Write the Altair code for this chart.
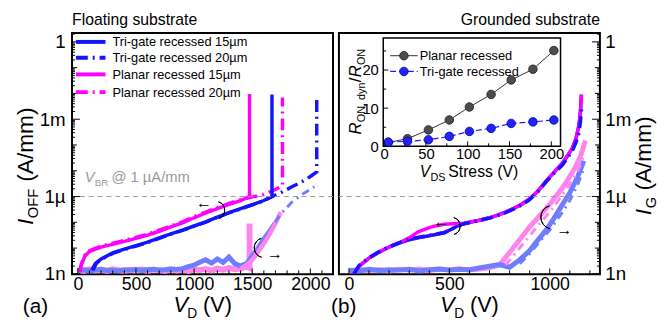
import altair as alt
import pandas as pd

FONT = "Liberation Sans"
W, H = 265, 245
BLUE, MAGENTA = "#1414ff", "#ff00ff"
LBLUE, LPINK = "#6f7dff", "#ff85ee"
GREY_TXT = "#9a9a9a"
DASH20 = [12, 5, 2, 5]

# ---------------- axis labels ----------------
Y_LABEL_VALUES = [1e-9, 1e-6, 1e-3, 1.0]
Y_LABELS = ["1n", "1µ", "1m", "1"]
XA_LABELS = [0, 500, 1000, 1500, 2000]
XB_LABELS = [0, 500, 1000]
INSET_X_LABELS = [0, 50, 100, 150, 200]
INSET_Y_LABELS = [0, 10, 20]

# ---------------- (a) floating substrate : I_OFF ----------------
A_TRI15_V = [120, 150, 200, 300, 400, 500, 600, 700, 800, 900, 1000, 1100, 1200, 1300, 1400, 1500, 1600, 1670, 1670]
A_TRI15_I = [1.4e-9, 2.5e-9, 3.8e-9, 6.5e-9, 9.2e-9, 12.5e-9, 17e-9, 25e-9, 36e-9, 50e-9, 72e-9, 105e-9,
             160e-9, 240e-9, 340e-9, 480e-9, 700e-9, 1.0e-6, 9e-3]
A_TRI20_V = [130, 160, 200, 300, 400, 500, 600, 700, 800, 900, 1000, 1100, 1200, 1300, 1400, 1500, 1600,
             1700, 1750, 1800, 1850, 1900, 1950, 2000, 2055, 2055]
A_TRI20_I = [1.4e-9, 2.6e-9, 3.6e-9, 6.2e-9, 8.8e-9, 12e-9, 16.5e-9, 24e-9, 35e-9, 49e-9, 70e-9, 102e-9,
             155e-9, 235e-9, 330e-9, 470e-9, 690e-9, 1.15e-6, 1.45e-6, 1.9e-6, 2.5e-6, 3.2e-6, 4.3e-6,
             6e-6, 9e-6, 8e-3]
A_PLA15_V = [15, 30, 60, 100, 200, 350, 500, 600, 700, 800, 900, 1000, 1100, 1200, 1300, 1400, 1477, 1477]
A_PLA15_I = [1.2e-9, 2.2e-9, 4.8e-9, 7.4e-9, 11e-9, 16e-9, 24e-9, 32e-9, 45e-9, 66e-9, 95e-9, 150e-9,
             230e-9, 340e-9, 500e-9, 700e-9, 1.0e-6, 9.5e-3]
A_PLA20_V = [15, 30, 60, 100, 200, 350, 500, 600, 700, 800, 900, 1000, 1100, 1200, 1300, 1400, 1500,
             1550, 1600, 1650, 1700, 1760, 1760]
A_PLA20_I = [1.2e-9, 2.4e-9, 5.2e-9, 8e-9, 12e-9, 17.5e-9, 26e-9, 35e-9, 50e-9, 72e-9, 105e-9, 165e-9,
             250e-9, 370e-9, 540e-9, 750e-9, 0.97e-6, 1.05e-6, 1.2e-6, 1.5e-6, 1.9e-6, 2.6e-6, 7e-3]

# ---------------- (a) floating substrate : I_G ----------------
A_GPLA15_V = [0, 50, 100, 150, 200, 250, 300, 350, 400, 450, 500, 550, 600, 650, 700, 750, 800, 850,
              900, 950, 1000, 1050, 1100, 1150, 1200, 1250, 1300, 1350, 1400, 1450, 1477, 1477]
A_GPLA15_I = [1.45e-9, 1.3e-9, 1.5e-9, 1.35e-9, 1.45e-9, 1.3e-9, 1.5e-9, 1.4e-9, 1.3e-9, 1.45e-9,
              1.35e-9, 1.5e-9, 1.3e-9, 1.45e-9, 1.4e-9, 1.3e-9, 1.5e-9, 1.35e-9, 1.45e-9, 1.3e-9,
              1.5e-9, 1.4e-9, 1.55e-9, 1.35e-9, 1.6e-9, 1.45e-9, 1.7e-9, 1.5e-9, 1.6e-9, 1.9e-9,
              1.7e-9, 9e-8]
A_GPLA20_V = [1400, 1450, 1500, 1550, 1600, 1650, 1700, 1745]
A_GPLA20_I = [1.6e-9, 2.2e-9, 3.5e-9, 7e-9, 15e-9, 35e-9, 90e-9, 250e-9]
A_GTRI15_V = [0, 50, 100, 150, 200, 250, 300, 350, 400, 450, 500, 550, 600, 650, 700, 750, 800, 850,
              900, 950, 1000, 1050, 1100, 1150, 1200, 1250, 1300, 1350, 1400,
              1450, 1500, 1550, 1600, 1650, 1695]
A_GTRI15_I = [1.35e-9, 1.45e-9, 1.3e-9, 1.4e-9, 1.5e-9, 1.35e-9, 1.4e-9, 1.3e-9, 1.45e-9, 1.4e-9,
              1.5e-9, 1.35e-9, 1.45e-9, 1.5e-9, 1.4e-9, 1.45e-9, 1.55e-9, 1.5e-9, 1.6e-9, 1.9e-9,
              2.2e-9, 2.8e-9, 3.5e-9, 2.6e-9, 3.8e-9, 2.8e-9, 4.5e-9, 2.5e-9, 2.0e-9,
              2.5e-9, 5e-9, 10e-9, 22e-9, 45e-9, 92e-9]
A_GTRI20_V = [1695, 1760, 1840, 1940, 2035]
A_GTRI20_I = [100e-9, 0.25e-6, 0.6e-6, 1.3e-6, 2.4e-6]

# ---------------- (b) grounded substrate : I_OFF ----------------
B_V = [25, 50, 100, 150, 200, 263, 300, 345, 400, 426, 475, 541, 574, 613, 650, 700, 737, 780, 819, 860,
       900, 940, 982, 1020, 1064, 1090, 1113, 1130, 1146, 1153, 1158]
B_PLA15_I = [1.0e-9, 2.0e-9, 4.1e-9, 7e-9, 11e-9, 18e-9, 25e-9, 43e-9, 62e-9, 71e-9, 84e-9, 90e-9, 92e-9,
             105e-9, 120e-9, 150e-9, 186e-9, 250e-9, 340e-9, 500e-9, 810e-9, 1.6e-6, 4e-6, 8.5e-6, 20e-6,
             40e-6, 76e-6, 170e-6, 0.6e-3, 2e-3, 9e-3]
B_PLA20_I = [1.0e-9, 2.1e-9, 4.3e-9, 7.3e-9, 11.5e-9, 17.5e-9, 22e-9, 26e-9, 31e-9, 34e-9, 40e-9, 72e-9,
             90e-9, 104e-9, 118e-9, 148e-9, 183e-9, 245e-9, 335e-9, 490e-9, 790e-9, 1.55e-6, 3.9e-6,
             8.2e-6, 19e-6, 38e-6, 72e-6, 160e-6, 0.5e-3, 1.5e-3, 6e-3]
B_TRI15_I = [1.0e-9, 2.0e-9, 4.1e-9, 7e-9, 11e-9, 17e-9, 21e-9, 25e-9, 30e-9, 33e-9, 39e-9, 72e-9, 90e-9,
             105e-9, 120e-9, 150e-9, 186e-9, 250e-9, 340e-9, 500e-9, 810e-9, 1.6e-6, 4e-6, 8.5e-6, 20e-6,
             40e-6, 76e-6, 170e-6, 0.6e-3, 2e-3, 9e-3]
B_TRI20_I = [1.0e-9, 2.1e-9, 4.2e-9, 7.2e-9, 11.3e-9, 17.5e-9, 22e-9, 26e-9, 31e-9, 34e-9, 40e-9, 70e-9,
             88e-9, 103e-9, 118e-9, 145e-9, 180e-9, 240e-9, 320e-9, 470e-9, 760e-9, 1.5e-6, 3.7e-6,
             7.8e-6, 17e-6, 32e-6, 60e-6, 120e-6, 0.3e-3, 0.8e-3, 2.5e-3]

# ---------------- (b) grounded substrate : I_G ----------------
B_GPLA15_V = [0, 50, 100, 150, 200, 250, 300, 350, 400, 450, 500, 550, 600, 650, 700, 750,
              800, 850, 900, 950, 1000, 1064, 1100, 1130, 1155, 1178]
B_GPLA15_I = [1.3e-9, 1.5e-9, 1.35e-9, 1.45e-9, 1.3e-9, 1.5e-9, 1.4e-9, 1.55e-9, 1.35e-9, 1.5e-9,
              1.45e-9, 1.6e-9, 1.4e-9, 1.55e-9, 1.7e-9, 2.2e-9,
              6.8e-9, 21e-9, 67e-9, 180e-9, 0.5e-6, 2.2e-6, 6e-6, 15e-6, 40e-6, 0.15e-3]
B_GTRI15_V = [0, 50, 100, 150, 200, 250, 300, 350, 400, 450, 500, 550, 600, 650, 700, 750, 800,
              850, 900, 940, 982, 1020, 1064, 1100, 1140, 1170]
B_GTRI15_I = [1.4e-9, 1.3e-9, 1.5e-9, 1.35e-9, 1.45e-9, 1.4e-9, 1.5e-9, 1.3e-9, 1.45e-9, 1.55e-9,
              1.4e-9, 1.5e-9, 1.45e-9, 1.7e-9, 2.0e-9, 2.3e-9, 1.8e-9,
              3.5e-9, 8e-9, 20e-9, 50e-9, 140e-9, 0.5e-6, 1.4e-6, 6e-6, 24e-6]
B_GPLA20_V = [780, 850, 900, 950, 1000, 1064, 1100, 1140, 1170]
B_GPLA20_I = [2.2e-9, 10e-9, 30e-9, 90e-9, 0.25e-6, 1.2e-6, 3e-6, 10e-6, 40e-6]
B_GTRI20_V = [850, 900, 950, 1000, 1064, 1100, 1140, 1165]
B_GTRI20_I = [2.5e-9, 6e-9, 18e-9, 50e-9, 0.25e-6, 0.7e-6, 3e-6, 10e-6]

# ---------------- inset: dynamic R_ON ----------------
INSET_V = [5, 28, 53, 78, 102, 128, 152, 178, 203]
INSET_PLANAR = [1.0, 2.0, 4.3, 6.9, 10.3, 13.6, 17.4, 20.2, 25.1]
INSET_TRIGATE = [1.1, 1.3, 1.7, 2.6, 3.9, 4.7, 6.0, 6.4, 6.9]

# ---------------- tick positions ----------------
Y_DECADES = [1e-8, 1e-7, 1e-5, 1e-4, 1e-2, 1e-1]
Y_MINOR = [k * 10.0 ** e for e in range(-9, 1) for k in range(2, 10) if k * 10.0 ** e < 2.2]
XA_MINOR = [v for v in range(0, 2200, 100) if v % 500]
XB_MINOR = [v for v in range(0, 1300, 100) if v % 500]
INSET_X_MINOR = [25, 75, 125, 175]
INSET_Y_MINOR = [5, 15, 25]

# ---------------- scales ----------------
YS = alt.Scale(type="log", domain=[9.6e-10, 2.2], nice=False)
XA = alt.Scale(domain=[-50, 2195], nice=False, zero=False)
XB = alt.Scale(domain=[-50, 1250], nice=False, zero=False)
IX = alt.Scale(domain=[-1, 211], range=[45, 225], nice=False, zero=False)
IY = alt.Scale(domain=[0, 28.4], range=[115, 5], nice=False, zero=False)

LABEL_EXPR = ("datum.value > 0.5 ? '%s' : datum.value > 5e-4 ? '%s' : datum.value > 5e-7 ? '%s' : '%s'"
              % (Y_LABELS[3], Y_LABELS[2], Y_LABELS[1], Y_LABELS[0]))


def y_axis(orient):
    return alt.Axis(orient=orient, values=Y_LABEL_VALUES, labelExpr=LABEL_EXPR, ticks=False, domain=False,
                    grid=False, labelFontSize=19, labelFont=FONT, labelColor="black",
                    labelPadding=7 if orient == "left" else 5, title=None, labelOverlap=False,
                    labelFlush=False)


def x_axis(values):
    return alt.Axis(orient="bottom", values=values, ticks=False, domain=False, grid=False,
                    labelFontSize=18, labelFont=FONT, labelColor="black", labelPadding=1, title=None,
                    labelFlush=False, labelOverlap=False, format="d")


AX_A, AX_B = x_axis(XA_LABELS), x_axis(XB_LABELS)
AY_A, AY_B = y_axis("left"), y_axis("right")
AX_I = alt.Axis(orient="bottom", offset=-130, values=INSET_X_LABELS, ticks=False, domain=False, grid=False,
                labelFontSize=15, labelFont=FONT, labelColor="black", labelPadding=0, title=None,
                labelFlush=False, labelOverlap=False)
AY_I = alt.Axis(orient="left", offset=-45, values=INSET_Y_LABELS, ticks=False, domain=False, grid=False,
                labelFontSize=15, labelFont=FONT, labelColor="black", labelPadding=5, title=None,
                labelFlush=False, labelOverlap=False)

ONE = pd.DataFrame({"k": [0]})


def frame(v, i):
    return pd.DataFrame({"V": v, "I": i, "k": list(range(len(v)))})


def curve(v, i, color, width, xs, xaxis, yaxis, dash=None):
    kw = dict(color=color, strokeWidth=width, clip=True)
    if dash:
        kw["strokeDash"] = dash
    return alt.Chart(frame(v, i)).mark_line(**kw).encode(
        x=alt.X("V:Q", scale=xs, axis=xaxis),
        y=alt.Y("I:Q", scale=YS, axis=yaxis),
        order="k:Q",
    )


def label(s, x, y, size, style="normal", color="black", angle=0, align="left", baseline="alphabetic"):
    return alt.Chart(ONE).mark_text(text=s, font=FONT, fontSize=size, fontStyle=style, color=color,
                                    angle=angle, align=align, baseline=baseline).encode(
        x=alt.value(x), y=alt.value(y))


def yticks(values, length, side, axis, scale=YS, x0=None):
    if x0 is None:
        x0 = 0 if side == "left" else W
    x1 = x0 + length if side == "left" else x0 - length
    return alt.Chart(pd.DataFrame({"t": values})).mark_rule(color="black", strokeWidth=1).encode(
        y=alt.Y("t:Q", scale=scale, axis=axis), x=alt.value(x0), x2=alt.value(x1))


def xticks(values, length, scale, axis, base=H):
    return alt.Chart(pd.DataFrame({"t": values})).mark_rule(color="black", strokeWidth=1).encode(
        x=alt.X("t:Q", scale=scale, axis=axis), y=alt.value(base), y2=alt.value(base - length))


def loop(cx, cy, r, t1, t2):
    return alt.Chart(ONE).mark_arc(filled=False, color="black", strokeWidth=1, radius=r, radius2=r,
                                   theta=t1, theta2=t2).encode(x=alt.value(cx), y=alt.value(cy))


def vd_title():
    return [label("V", 103, 283, 22, "italic"), label("D", 117, 289, 14), label("(V)", 133, 283, 22)]


def vbr_rule(axis):
    return alt.Chart(pd.DataFrame({"I": [1e-6]})).mark_rule(color="#9a9a9a", strokeDash=[5, 4],
                                                             strokeWidth=1).encode(
        y=alt.Y("I:Q", scale=YS, axis=axis))


def legend_row(y, color, dash, text):
    kw = dict(color=color, strokeWidth=4)
    if dash:
        kw["strokeDash"] = dash
    r = alt.Chart(ONE).mark_rule(**kw).encode(x=alt.value(4), x2=alt.value(34), y=alt.value(y))
    return [r, label(text, 41, y + 4.5, 13)]


# ================= panel (a) =================
a_layers = [
    curve(A_GPLA15_V, A_GPLA15_I, LPINK, 6, XA, AX_A, AY_A),
    curve(A_GTRI15_V, A_GTRI15_I, LBLUE, 5, XA, AX_A, AY_A),
    curve(A_GPLA20_V, A_GPLA20_I, LPINK, 4.5, XA, AX_A, AY_A),
    curve(A_GTRI20_V, A_GTRI20_I, LBLUE, 3, XA, AX_A, AY_A, dash=[8, 5, 2, 5]),
    curve(A_PLA15_V, A_PLA15_I, MAGENTA, 3.5, XA, AX_A, AY_A),
    curve(A_PLA20_V, A_PLA20_I, MAGENTA, 3.5, XA, AX_A, AY_A, dash=DASH20),
    curve(A_TRI15_V, A_TRI15_I, BLUE, 3.5, XA, AX_A, AY_A),
    curve(A_TRI20_V, A_TRI20_I, BLUE, 3.5, XA, AX_A, AY_A, dash=DASH20),
    vbr_rule(AY_A),
    yticks(Y_LABEL_VALUES, 8, "left", AY_A), yticks(Y_DECADES, 5, "left", AY_A),
    yticks(Y_MINOR, 3, "left", AY_A),
    xticks(XA_LABELS, 6, XA, AX_A), xticks(XA_MINOR, 4, XA, AX_A),
    label("Floating substrate", 0, -8, 16),
    label("I", -40, 195, 23, "italic", angle=270),
    label("OFF", -35, 188, 15, angle=270),
    label("(A/mm)", -40, 151, 23, angle=270),
    label("(a)", -50, 284, 21),
    label("V", 13, 151, 15, "italic", color=GREY_TXT),
    label("BR", 23, 155, 10, color=GREY_TXT),
    label("@ 1 µA/mm", 40, 151, 15, color=GREY_TXT),
    label("←", 134, 173, 16, align="center", baseline="middle"),
    loop(146, 180, 9, 0.3, 2.8),
    loop(195, 218, 10, 3.4, 6.0),
    label("→", 206, 224, 16, align="center", baseline="middle"),
] + vd_title()
a_layers += legend_row(9, BLUE, None, "Tri-gate recessed 15µm")
a_layers += legend_row(25, BLUE, DASH20, "Tri-gate recessed 20µm")
a_layers += legend_row(42, MAGENTA, None, "Planar recessed  15µm")
a_layers += legend_row(60, MAGENTA, DASH20, "Planar recessed 20µm")

panel_a = alt.layer(*a_layers).properties(width=W, height=H)

# ================= panel (b) =================
b_main = [
    curve(B_GPLA15_V, B_GPLA15_I, LPINK, 5, XB, AX_B, AY_B),
    curve(B_GTRI15_V, B_GTRI15_I, LBLUE, 5, XB, AX_B, AY_B),
    curve(B_GPLA20_V, B_GPLA20_I, LPINK, 3, XB, AX_B, AY_B, dash=[8, 5, 2, 5]),
    curve(B_GTRI20_V, B_GTRI20_I, LBLUE, 3, XB, AX_B, AY_B, dash=[8, 5, 2, 5]),
    curve(B_V, B_TRI15_I, BLUE, 3.5, XB, AX_B, AY_B),
    curve(B_V, B_PLA20_I, MAGENTA, 3.5, XB, AX_B, AY_B, dash=DASH20),
    curve(B_V, B_PLA15_I, MAGENTA, 3.5, XB, AX_B, AY_B),
    curve(B_V, B_TRI20_I, BLUE, 3.5, XB, AX_B, AY_B, dash=DASH20),
    vbr_rule(AY_B),
    yticks(Y_LABEL_VALUES, 8, "right", AY_B), yticks(Y_DECADES, 5, "right", AY_B),
    yticks(Y_MINOR, 3, "right", AY_B),
    xticks(XB_LABELS, 6, XB, AX_B), xticks(XB_MINOR, 4, XB, AX_B),
    label("Grounded substrate", W, -8, 16, align="right"),
    label("I", 317, 185, 23, "italic", angle=270),
    label("G", 322, 178, 15, angle=270),
    label("(A/mm)", 317, 160, 23, angle=270),
    label("(b)", -8, 284, 21),
    label("←", 104, 192, 16, align="center", baseline="middle"),
    loop(114, 196, 9, 0.3, 2.8),
    loop(217, 187, 12, 3.4, 6.0),
    label("→", 229, 200, 16, align="center", baseline="middle"),
] + vd_title()


def inset_series(values, color, width, dash=None):
    kw = dict(color=color, strokeWidth=width)
    if dash:
        kw["strokeDash"] = dash
    return alt.Chart(pd.DataFrame({"V": INSET_V, "R": values})).mark_line(**kw).encode(
        x=alt.X("V:Q", scale=IX, axis=AX_I), y=alt.Y("R:Q", scale=IY, axis=AY_I))


def inset_points(values, fill, stroke):
    return alt.Chart(pd.DataFrame({"V": INSET_V, "R": values})).mark_circle(
        size=75, color=fill, stroke=stroke, strokeWidth=0.8, opacity=1).encode(
        x=alt.X("V:Q", scale=IX, axis=AX_I), y=alt.Y("R:Q", scale=IY, axis=AY_I))


inset_layers = [
    alt.Chart(ONE).mark_rect(fill="white", stroke="black", strokeWidth=1.5).encode(
        x=alt.value(45), x2=alt.value(225), y=alt.value(5), y2=alt.value(115)),
    inset_series(INSET_PLANAR, "#333333", 1),
    inset_series(INSET_TRIGATE, "#1a1aff", 1.2, dash=[6, 3]),
    inset_points(INSET_PLANAR, "#4d4d4d", "#1a1a1a"),
    inset_points(INSET_TRIGATE, "#2323ff", "#0000a0"),
    xticks(INSET_X_LABELS, 5, IX, AX_I, base=115), xticks(INSET_X_MINOR, 3, IX, AX_I, base=115),
    yticks(INSET_Y_LABELS, 5, "left", AY_I, scale=IY, x0=45),
    yticks(INSET_Y_MINOR, 3, "left", AY_I, scale=IY, x0=45),
    # inset legend
    alt.Chart(ONE).mark_rule(color="#333333", strokeWidth=1).encode(x=alt.value(52), x2=alt.value(80), y=alt.value(23)),
    alt.Chart(ONE).mark_circle(size=75, color="#4d4d4d", stroke="#1a1a1a", strokeWidth=0.8, opacity=1).encode(
        x=alt.value(66), y=alt.value(23)),
    label("Planar recessed", 82, 27.5, 13),
    alt.Chart(ONE).mark_rule(color="#1a1aff", strokeWidth=1.2, strokeDash=[6, 3]).encode(
        x=alt.value(52), x2=alt.value(80), y=alt.value(39)),
    alt.Chart(ONE).mark_circle(size=75, color="#2323ff", stroke="#0000a0", strokeWidth=0.8, opacity=1).encode(
        x=alt.value(66), y=alt.value(39)),
    label("Tri-gate recessed", 82, 43.5, 13),
    # inset axis titles
    label("V", 82, 146, 16, "italic"),
    label("DS", 93, 150, 11),
    label("Stress (V)", 111, 146, 16),
    label("R", 22, 103, 17, "italic", angle=270),
    label("ON, dyn", 26, 90.5, 11, angle=270),
    label("/", 22, 50, 17, angle=270),
    label("R", 22, 45, 17, "italic", angle=270),
    label("ON", 26, 32.5, 11, angle=270),
]

panel_b = alt.layer(alt.layer(*b_main), alt.layer(*inset_layers)).resolve_scale(
    x="independent", y="independent").properties(width=W, height=H)

chart = alt.hconcat(panel_a, panel_b, spacing=6, bounds="flush").properties(
    padding={"left": 6, "top": 1, "right": 0, "bottom": 0}, background="white"
).configure_view(stroke="black", strokeWidth=2)

chart.save("out.html", embed_options={"renderer": "svg", "actions": False})
